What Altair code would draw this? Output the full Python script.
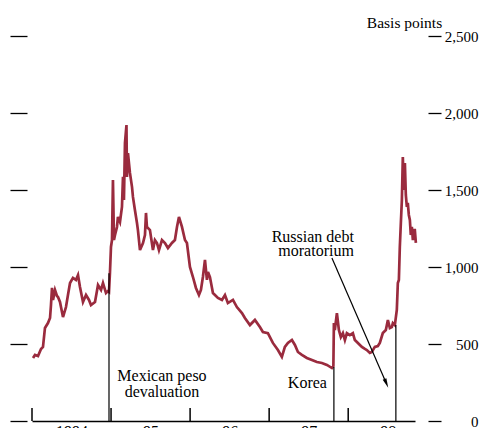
import altair as alt
import pandas as pd

# ---- data (decimal year, basis points) ----
years = [
    1994.013, 1994.038, 1994.076, 1994.114, 1994.139, 1994.164, 1994.202, 1994.228, 1994.240, 1994.253,
    1994.266, 1994.291, 1994.316, 1994.329, 1994.354, 1994.392, 1994.430, 1994.455, 1994.481, 1994.518,
    1994.556, 1994.582, 1994.607, 1994.645, 1994.683, 1994.721, 1994.746, 1994.797, 1994.835, 1994.873,
    1994.898, 1994.936, 1994.961, 1994.974, 1994.986, 1994.999, 1995.012, 1995.024, 1995.037, 1995.050,
    1995.075, 1995.087, 1995.113, 1995.138, 1995.151, 1995.163, 1995.176, 1995.195, 1995.201, 1995.214,
    1995.239, 1995.265, 1995.277, 1995.302, 1995.328, 1995.340, 1995.366, 1995.404, 1995.429, 1995.442,
    1995.454, 1995.492, 1995.530, 1995.555, 1995.581, 1995.606, 1995.644, 1995.682, 1995.720, 1995.770,
    1995.808, 1995.834, 1995.859, 1995.897, 1995.935, 1995.960, 1995.998, 1996.036, 1996.074, 1996.112,
    1996.137, 1996.162, 1996.188, 1996.213, 1996.226, 1996.251, 1996.289, 1996.352, 1996.403, 1996.441,
    1996.478, 1996.542, 1996.592, 1996.656, 1996.693, 1996.757, 1996.820, 1996.883, 1996.921, 1996.984,
    1997.047, 1997.111, 1997.161, 1997.199, 1997.237, 1997.288, 1997.326, 1997.364, 1997.414, 1997.477,
    1997.541, 1997.604, 1997.667, 1997.731, 1997.794, 1997.8125, 1997.819, 1997.831, 1997.857, 1997.882,
    1997.907, 1997.933, 1997.958, 1997.983, 1998.021, 1998.059, 1998.084, 1998.110, 1998.148, 1998.173,
    1998.211, 1998.236, 1998.274, 1998.299, 1998.337, 1998.375, 1998.400, 1998.438, 1998.476, 1998.502,
    1998.527, 1998.552, 1998.565, 1998.590, 1998.615, 1998.628, 1998.641, 1998.653, 1998.666, 1998.679,
    1998.691, 1998.704, 1998.717, 1998.729, 1998.742, 1998.754, 1998.767, 1998.780, 1998.792, 1998.805,
    1998.818, 1998.830, 1998.843, 1998.856,
]
spread = [
    409, 429, 422, 468, 481, 604, 636, 669, 753, 864,
    786, 851, 812, 805, 773, 675, 740, 818, 896, 929,
    916, 948, 870, 773, 818, 786, 753, 773, 883, 851,
    896, 831, 844, 838, 961, 1130, 1175, 1565, 1175, 1208,
    1260, 1325, 1292, 1390, 1585, 1435, 1805, 1922, 1585, 1740,
    1611, 1520, 1455, 1370, 1286, 1240, 1110, 1156, 1208, 1351,
    1260, 1240, 1110, 1175, 1156, 1110, 1175, 1156, 1123, 1156,
    1175, 1260, 1325, 1260, 1175, 1156, 1000, 935, 864, 818,
    851, 935, 1046, 916, 968, 935, 831, 799, 786, 818,
    766, 786, 740, 701, 669, 623, 656, 610, 578, 571,
    507, 461, 416, 481, 507, 526, 494, 448, 429, 409,
    396, 383, 377, 364, 344, 357, 636, 591, 701, 591,
    545, 571, 526, 571, 558, 571, 526, 513, 494, 481,
    468, 461, 442, 448, 481, 487, 507, 571, 591, 656,
    604, 610, 636, 623, 721, 896, 916, 1130, 1286, 1435,
    1714, 1500, 1675, 1468, 1390, 1416, 1338, 1305, 1208, 1260,
    1175, 1240, 1240, 1156,
]

event_years = [1994.974, 1997.819, 1998.603]
event_tops = [960, 350, 623]

tick_years = [1994, 1995, 1996, 1997, 1998]
label_years = [1994.5, 1995.5, 1996.5, 1997.5, 1998.5]
y_ticks = [0, 500, 1000, 1500, 2000, 2500]

mex_text = ["Mexican peso\ndevaluation"]
mex_pos = ([1995.644], [260])
korea_text = ["Korea"]
korea_pos = ([1997.484], [214])
russia_text = ["Russian debt\nmoratorium"]
russia_pos = ([1998.072], [1163])

arrow_start = (1997.794, 1058)
arrow_end = (1998.464, 266)
arrow_head = (1998.483, 244)

FONT = "Liberation Serif"
RED = "#9A2B3E"

series_df = pd.DataFrame({"year": years, "bp": spread})
events_df = pd.DataFrame({"year": event_years, "top": event_tops, "zero": [0] * len(event_years)})
ticks_df = pd.DataFrame({"year": tick_years, "zero": [0] * len(tick_years), "len": [84] * len(tick_years)})
arrow_df = pd.DataFrame({"x": [arrow_start[0]], "y": [arrow_start[1]], "x2": [arrow_end[0]], "y2": [arrow_end[1]]})
head_df = pd.DataFrame({"x": [arrow_head[0]], "y": [arrow_head[1]]})

xs = alt.Scale(domain=[1994.0, 1998.845], nice=False, zero=False)
ys = alt.Scale(domain=[0, 2500], nice=False)

x_axis = alt.Axis(
    values=label_years, ticks=False, domain=True, domainColor="black", domainWidth=1.5,
    labelExpr="datum.value < 1995 ? '1994' : substring(toString(floor(datum.value)), 2, 4)",
    labelFont=FONT, labelFontSize=16, labelColor="black", labelPadding=2, labelBaseline="top",
    labelFlush=False, labelOverlap=False, grid=False, title=None,
)
left_axis = alt.Axis(
    values=y_ticks, labels=False, domain=False, ticks=True, tickSize=17, tickWidth=1.3,
    tickColor="black", offset=5, grid=False, title=None,
)
right_axis = alt.Axis(
    orient="right", values=y_ticks, format=",d", domain=False, ticks=True, tickSize=13,
    tickWidth=1.3, tickColor="black", offset=13, labelAlign="right", labelPadding=37,
    labelFont=FONT, labelFontSize=15, labelColor="black", labelBaseline="middle", grid=False,
    title="Basis points", titleAngle=0, titleFont=FONT, titleFontSize=15.5, titleFontWeight="normal",
    titleColor="black", titleAlign="center", titleBaseline="alphabetic", titleX=-24, titleY=-9,
)


def X(field):
    return alt.X(field, scale=xs, axis=x_axis)


line = alt.Chart(series_df).mark_line(color=RED, strokeWidth=2.7, clip=False).encode(
    x=X("year:Q"),
    y=alt.Y("bp:Q", scale=ys, axis=left_axis),
)

events = alt.Chart(events_df).mark_rule(color="black", strokeWidth=1.2).encode(
    x=X("year:Q"),
    y=alt.Y("zero:Q", scale=ys, axis=None),
    y2="top:Q",
)

year_ticks = alt.Chart(ticks_df).mark_rule(color="black", strokeWidth=1.5).encode(
    x=X("year:Q"),
    y=alt.Y("zero:Q", scale=ys, axis=right_axis),
    y2="len:Q",
)


def label_layer(text, pos, align, lh):
    df = pd.DataFrame({"year": pos[0], "bp": pos[1], "txt": text})
    return alt.Chart(df).mark_text(
        font=FONT, fontSize=16, color="black", align=align, baseline="alphabetic",
        lineBreak="\n", lineHeight=lh,
    ).encode(
        x=X("year:Q"),
        y=alt.Y("bp:Q", scale=ys, axis=None),
        text="txt:N",
    )


mex = label_layer(mex_text, mex_pos, "center", 16)
korea = label_layer(korea_text, korea_pos, "center", 16)
russia = label_layer(russia_text, russia_pos, "right", 14)

arrow = alt.Chart(arrow_df).mark_rule(color="black", strokeWidth=1.2).encode(
    x=X("x:Q"),
    y=alt.Y("y:Q", scale=ys, axis=None),
    x2="x2:Q",
    y2="y2:Q",
)
head = alt.Chart(head_df).mark_point(
    shape="M0,-1L0.42,1L-0.42,1Z", filled=True, color="black", opacity=1, size=90, angle=157,
).encode(
    x=X("x:Q"),
    y=alt.Y("y:Q", scale=ys, axis=None),
)

chart = alt.layer(line, events, year_ticks, mex, korea, russia, arrow, head).resolve_axis(
    y="independent"
).properties(
    width=383, height=385,
    autosize=alt.AutoSizeParams(type="none"),
    padding={"left": 24, "top": 28, "right": 64, "bottom": 7},
    background="white",
).configure_view(stroke=None)

chart.save("out.html", embed_options={"renderer": "svg", "actions": False})
